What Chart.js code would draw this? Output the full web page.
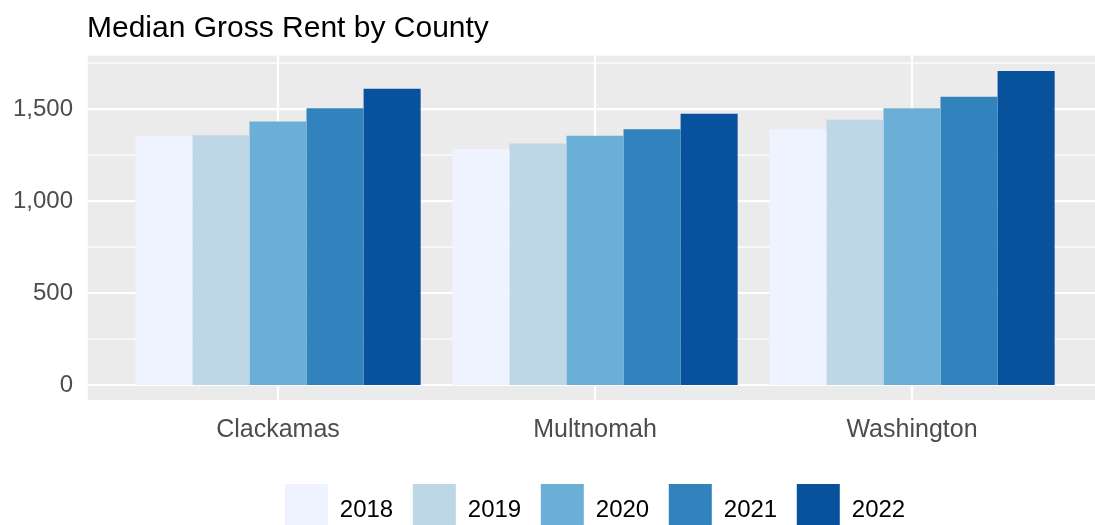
<!DOCTYPE html>
<html>
<head>
<meta charset="utf-8">
<script src="https://cdn.jsdelivr.net/npm/chart.js@4"></script>
<style>
  html, body { margin: 0; padding: 0; background: #fff; overflow: hidden; }
  #wrap { width: 1095px; height: 525px; overflow: hidden; }
</style>
</head>
<body>
<div id="wrap"><canvas id="myChart" width="1095" height="546"></canvas></div>
<script>
var counties = ["Clackamas", "Multnomah", "Washington"];
var years = ["2018", "2019", "2020", "2021", "2022"];
var rent2018 = [1355, 1283, 1390];
var rent2019 = [1357, 1313, 1442];
var rent2020 = [1433, 1355, 1505];
var rent2021 = [1505, 1390, 1567];
var rent2022 = [1610, 1475, 1707];
var yTicks = [0, 500, 1000, 1500];
var yMinor = [250, 750, 1250, 1750];
var colors = ["#EFF3FF", "#BDD7E7", "#6BAED6", "#3182BD", "#08519C"];

var FONT = "Arial, 'Liberation Sans', sans-serif";

// ggplot style grey panel + white grid, drawn a bit wider than the chart area
var panelPlugin = {
  id: "panel",
  afterLayout: function (chart) {
    // title lines up with the panel's left edge, not the canvas edge
    chart.titleBlock.left = 87;
  },
  beforeDatasetsDraw: function (chart) {
    var c = chart.ctx, a = chart.chartArea;
    var x = chart.scales.x, y = chart.scales.y;
    var step = x.getPixelForValue(1) - x.getPixelForValue(0);
    var left = a.left - step * 0.1, right = a.right + step * 0.1;
    c.save();
    c.fillStyle = "#EBEBEB";
    c.fillRect(left, a.top, right - left, a.bottom - a.top);
    c.strokeStyle = "#FFFFFF";
    c.lineWidth = 1.2;
    yMinor.forEach(function (v) {
      var py = y.getPixelForValue(v);
      c.beginPath(); c.moveTo(left, py); c.lineTo(right, py); c.stroke();
    });
    c.lineWidth = 2.2;
    yTicks.forEach(function (v) {
      var py = y.getPixelForValue(v);
      c.beginPath(); c.moveTo(left, py); c.lineTo(right, py); c.stroke();
    });
    counties.forEach(function (n, i) {
      var px = x.getPixelForValue(i);
      c.beginPath(); c.moveTo(px, a.top); c.lineTo(px, a.bottom); c.stroke();
    });
    c.restore();
  }
};

var series = [rent2018, rent2019, rent2020, rent2021, rent2022];

var ctx = document.getElementById("myChart").getContext("2d");
var myChart = new Chart(ctx, {
  type: "bar",
  data: {
    labels: counties,
    datasets: years.map(function (yr, i) {
      return {
        label: yr,
        data: series[i],
        backgroundColor: colors[i],
        borderWidth: 0,
        categoryPercentage: 0.9,
        barPercentage: 1.0
      };
    })
  },
  options: {
    responsive: false,
    animation: false,
    layout: { padding: { left: 0, right: 24.5, top: 0, bottom: 0 } },
    plugins: {
      tooltip: { enabled: false },
      title: {
        display: true,
        text: "Median Gross Rent by County",
        align: "start",
        color: "#000000",
        font: { family: FONT, size: 30, weight: "normal" },
        padding: { top: 11, bottom: 8.7 }
      },
      legend: {
        position: "bottom",
        fullSize: false,
        labels: {
          // the keys run past the bottom edge of the page, as in the original
          boxWidth: 43,
          boxHeight: 52,
          padding: 19.6,
          color: "#000000",
          font: { family: FONT, size: 24 }
        }
      }
    },
    scales: {
      x: {
        grid: { display: false, drawTicks: false },
        border: { display: false },
        ticks: { color: "#4D4D4D", font: { family: FONT, size: 25 }, padding: 15 },
        afterFit: function (s) { s.height = 64.4; }
      },
      y: {
        min: -81.5,
        max: 1790,
        grid: { display: false, drawTicks: true, tickLength: 44.5 },
        border: { display: false },
        afterBuildTicks: function (s) {
          s.ticks = yTicks.map(function (v) { return { value: v }; });
        },
        ticks: {
          color: "#4D4D4D",
          font: { family: FONT, size: 24 },
          padding: 2,
          callback: function (v) { return Number(v).toLocaleString("en-US"); }
        },
        afterFit: function (s) { s.width = 119.5; }
      }
    }
  },
  plugins: [panelPlugin]
});
</script>
</body>
</html>
